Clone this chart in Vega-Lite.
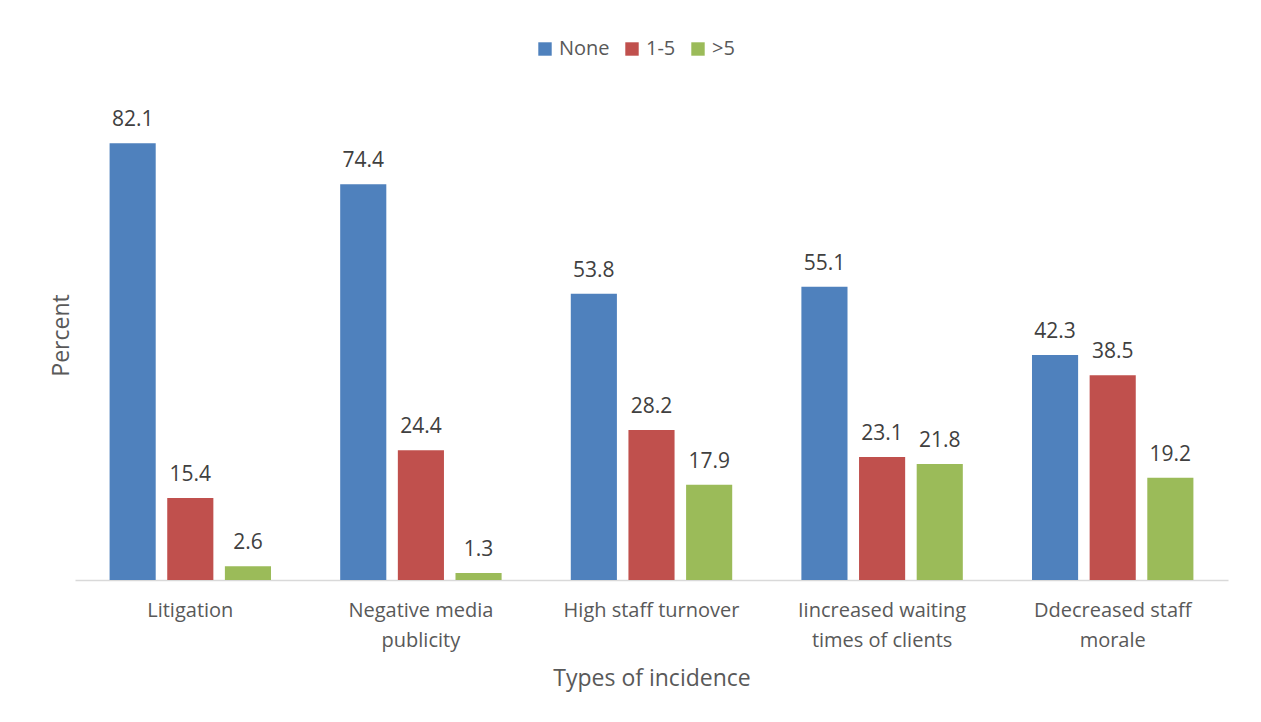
{
  "$schema": "https://vega.github.io/schema/vega-lite/v6.json",
  "autosize": "none",
  "width": 1153,
  "height": 490,
  "padding": {"left": 75, "top": 90, "right": 33, "bottom": 142},
  "background": "white",
  "config": {
    "view": {"stroke": null},
    "font": "Open Sans"
  },
  "data": {
    "values": [
      {"cat": "Litigation", "grp": "None", "v": 82.1},
      {"cat": "Litigation", "grp": "1-5", "v": 15.4},
      {"cat": "Litigation", "grp": ">5", "v": 2.6},
      {"cat": "Negative media|publicity", "grp": "None", "v": 74.4},
      {"cat": "Negative media|publicity", "grp": "1-5", "v": 24.4},
      {"cat": "Negative media|publicity", "grp": ">5", "v": 1.3},
      {"cat": "High staff turnover", "grp": "None", "v": 53.8},
      {"cat": "High staff turnover", "grp": "1-5", "v": 28.2},
      {"cat": "High staff turnover", "grp": ">5", "v": 17.9},
      {"cat": "Iincreased waiting|times of clients", "grp": "None", "v": 55.1},
      {"cat": "Iincreased waiting|times of clients", "grp": "1-5", "v": 23.1},
      {"cat": "Iincreased waiting|times of clients", "grp": ">5", "v": 21.8},
      {"cat": "Ddecreased staff|morale", "grp": "None", "v": 42.3},
      {"cat": "Ddecreased staff|morale", "grp": "1-5", "v": 38.5},
      {"cat": "Ddecreased staff|morale", "grp": ">5", "v": 19.2}
    ]
  },
  "encoding": {
    "x": {
      "field": "cat", "type": "nominal", "sort": null,
      "scale": {"paddingInner": 0, "paddingOuter": 0},
      "axis": {
        "title": "Types of incidence",
        "titleFontSize": 23, "titleFontWeight": "normal", "titleColor": "#595959", "titlePadding": 17,
        "labelAngle": 0, "labelFontSize": 20, "labelColor": "#595959", "labelPadding": 20,
        "labelExpr": "split(datum.label, '|')", "labelLineHeight": 30, "labelLimit": 300,
        "ticks": false, "domainColor": "#D9D9D9", "domainWidth": 1.5
      }
    },
    "xOffset": {
      "field": "grp", "type": "nominal", "sort": ["None", "1-5", ">5"],
      "scale": {"paddingInner": 0.2, "paddingOuter": 0.6}
    },
    "y": {
      "field": "v", "type": "quantitative",
      "scale": {"domain": [0, 92.1], "nice": false},
      "axis": {
        "title": "Percent", "titleFontSize": 23, "titleFontWeight": "normal", "titleColor": "#595959",
        "labels": false, "ticks": false, "domain": false, "grid": false, "titlePadding": 2
      }
    }
  },
  "layer": [
    {
      "mark": {"type": "bar"},
      "encoding": {
        "color": {
          "field": "grp", "type": "nominal", "sort": ["None", "1-5", ">5"],
          "scale": {"domain": ["None", "1-5", ">5"], "range": ["#4F81BD", "#C0504D", "#9BBB59"]},
          "legend": {
            "title": null, "orient": "none", "direction": "horizontal", "legendX": 460, "legendY": -51,
            "symbolType": "square", "symbolSize": 180, "symbolStrokeWidth": 0,
            "labelFontSize": 20, "labelColor": "#595959", "columnPadding": 12
          }
        }
      }
    },
    {
      "mark": {"type": "text", "baseline": "bottom", "dy": -13, "fontSize": 21, "color": "#404040"},
      "encoding": {"text": {"field": "v", "type": "quantitative", "format": ".1f"}}
    }
  ]
}
